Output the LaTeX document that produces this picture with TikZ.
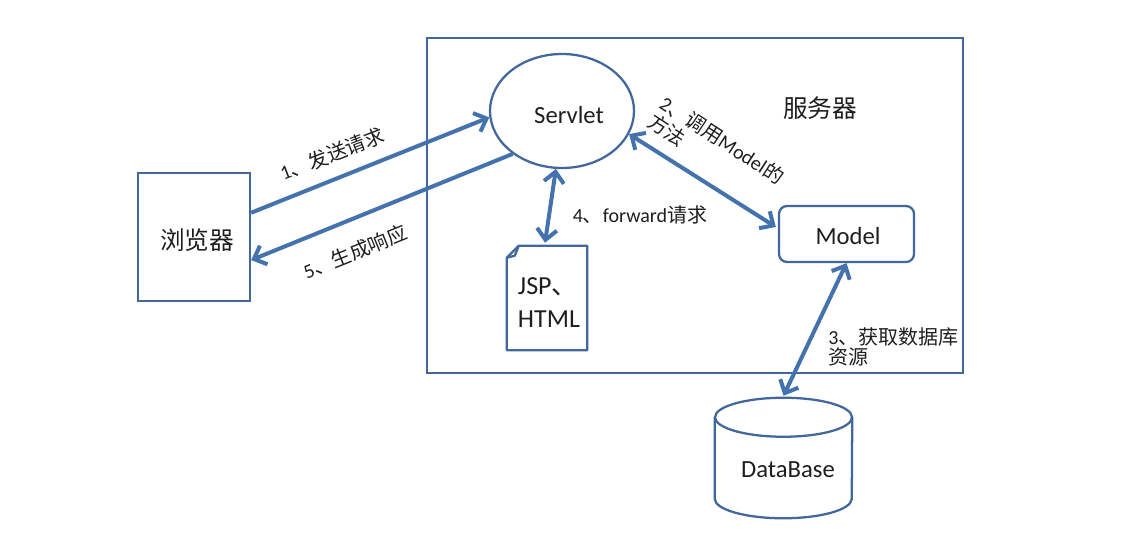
\documentclass[tikz,border=0pt]{standalone}
\usepackage{fontspec}
\setmainfont{Carlito}
\newfontfamily\cjk{Noto Sans CJK SC}
\usetikzlibrary{arrows.meta,shapes.geometric,calc}
\definecolor{shapeblue}{RGB}{66,103,156}
\definecolor{arrowblue}{RGB}{68,114,172}
\definecolor{txt}{RGB}{30,30,30}
\begin{document}
\begin{tikzpicture}[x=0.75pt,y=-0.75pt,
  shp/.style={draw=shapeblue,line width=1.7pt},
  conn/.style={draw=arrowblue,line width=3pt,-{Straight Barb[length=8pt,width=15pt]}},
  dconn/.style={draw=arrowblue,line width=3pt,{Straight Barb[length=8pt,width=15pt]}-{Straight Barb[length=8pt,width=15pt]}},
  big/.style={font=\fontsize{18.5}{22}\selectfont,text=txt,inner sep=0pt},
  lab/.style={font=\fontsize{15}{15}\selectfont,text=txt,inner sep=0pt},
]
\useasboundingbox (0,0) rectangle (1126,557);
% server box
\node[shp,rectangle,minimum width=402pt,minimum height=251.25pt,inner sep=0pt] (server) at (695,205.5) {};
\node[big] (servertxt) at (820,108) {\cjk 服务器};
% browser
\node[shp,rectangle,minimum width=84pt,minimum height=96pt,inner sep=0pt] (browser) at (194,237) {};
\node[big] (browsertxt) at (197,240) {\cjk 浏览器};
% servlet
\node[shp,ellipse,minimum width=108pt,minimum height=85.5pt,inner sep=0pt] (servlet) at (562,111) {};
\node[big] (servlettxt) at (569,115) {Servlet};
% model
\node[shp,rectangle,rounded corners=6pt,minimum width=101.25pt,minimum height=42pt,inner sep=0pt] (model) at (846.5,234) {};
\node[big] (modeltxt) at (848,236) {Model};
% jsp document
\node[rectangle,minimum width=60pt,minimum height=78pt,inner sep=0pt] (jsp) at (547,298) {};
\draw[shp,line join=round] ($(jsp.north west)+(0,12)$) -- ($(jsp.north west)+(12,0)$) -- (jsp.north east) -- (jsp.south east) -- (jsp.south west) -- cycle;
\draw[shp,line join=round] ($(jsp.north west)+(0,12)$) -- ($(jsp.north west)+(8,10)$) -- ($(jsp.north west)+(12,0)$);
\node[big,align=left,font=\fontsize{19.5}{24.75}\selectfont] (jsptxt) at (549,303) {JSP{\cjk 、}\\HTML};
% database
\node[rectangle,minimum width=102.75pt,minimum height=90pt,inner sep=0pt] (db) at (783.5,458) {};
\draw[shp] ($(db.north west)+(0,19.5)$) -- ($(db.south west)+(0,-19.5)$)
  arc[start angle=180,end angle=360,x radius=51.375pt,y radius=14.625pt]
  -- ($(db.north east)+(0,19.5)$);
\draw[shp] ($(db.north)+(0,19.5)$) ellipse[x radius=51.375pt,y radius=14.625pt];
\node[big] (dbtxt) at (788,470) {DataBase};
% connectors
\draw[conn] (browser.23) -- (servlet.185);
\draw[conn] (servlet.221) -- (browser.-22);
\draw[dconn] (servlet.264) -- ($(jsp.north)+(-2,-3)$);
\draw[dconn] (servlet.-19) -- ($(model.west)+(-2,-7)$);
\draw[dconn] (model.south) -- ($(db.north)+(0,-2)$);
% labels
\node[lab,rotate=21] (l1) at (332,154) {1{\cjk 、发送请求}};
\node[lab,rotate=22] (l5) at (355,252) {5{\cjk 、生成响应}};
\node[lab] (l4) at (640,215) {4{\cjk 、}forward{\cjk 请求}};
\node[lab,rotate=-33,anchor=west] (l2a) at (662,101) {2{\cjk 、调用}Model{\cjk 的}};
\node[lab,rotate=-33] (l2b) at (667,130) {\cjk 方法};
\node[lab,align=left,anchor=north west] (l3) at (828,327) {3{\cjk 、获取数据库}\\{\cjk 资源}};
\end{tikzpicture}
\end{document}
